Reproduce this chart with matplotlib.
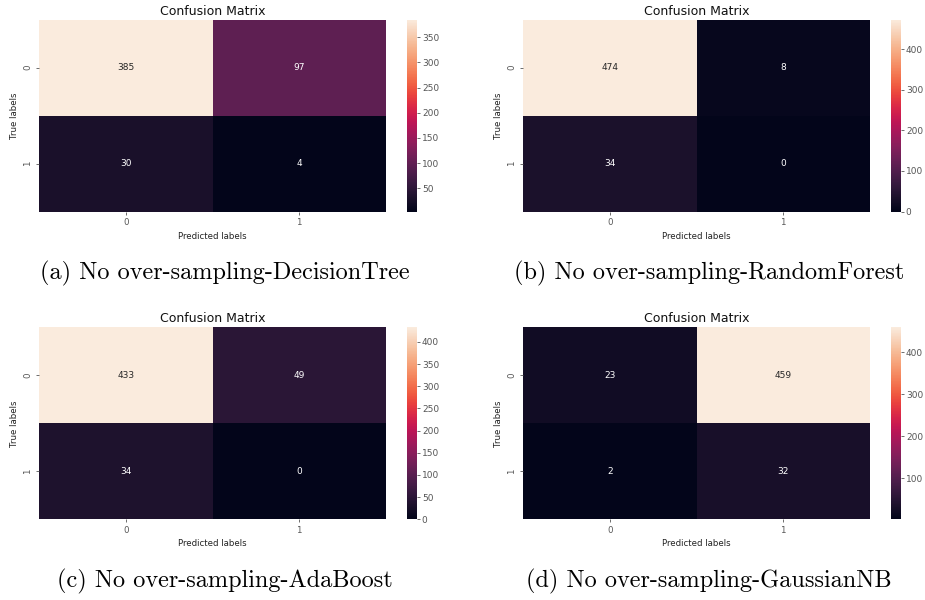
import numpy as np
import matplotlib
matplotlib.use("Agg")
import matplotlib.pyplot as plt
import seaborn as sns

# Confusion matrices (rows: true label, cols: predicted label)
cm_decision_tree = [[385, 97], [30, 4]]
cm_random_forest = [[474, 8], [34, 0]]
cm_adaboost = [[433, 49], [34, 0]]
cm_gaussian_nb = [[23, 459], [2, 32]]

captions = [
    "(a) No over-sampling-DecisionTree",
    "(b) No over-sampling-RandomForest",
    "(c) No over-sampling-AdaBoost",
    "(d) No over-sampling-GaussianNB",
]
class_labels = ["0", "1"]

fig = plt.figure(figsize=(9.25, 6), dpi=100)

W, H = 925.0, 600.0
# pixel boxes: (heatmap left, heatmap top, colorbar left, caption x, caption y)
panels = [
    (39, 19.5, 407, 225, 273),
    (523, 19.5, 891, 709, 273),
    (39, 327.3, 407, 225, 581),
    (523, 327.3, 891, 709, 581),
]
hm_w, hm_h, cb_w = 347, 192, 10

matrices = [cm_decision_tree, cm_random_forest, cm_adaboost, cm_gaussian_nb]

for cm, cap, (hx, hy, cx, tx, ty) in zip(matrices, captions, panels):
    ax = fig.add_axes([hx / W, 1 - (hy + hm_h) / H, hm_w / W, hm_h / H])
    cax = fig.add_axes([cx / W, 1 - (hy + hm_h) / H, cb_w / W, hm_h / H])
    sns.heatmap(np.array(cm), annot=True, fmt="d", ax=ax, cbar_ax=cax,
                annot_kws={"fontsize": 6.5})
    ax.set_title("Confusion Matrix", fontsize=9, pad=3.5, color="#111111")
    ax.set_xlabel("Predicted labels", fontsize=6.2, color="#222222",
                  labelpad=3)
    ax.set_ylabel("True labels", fontsize=6.2, color="#222222", labelpad=3)
    ax.set_xticklabels(class_labels, fontsize=6.2)
    ax.set_yticklabels(class_labels, fontsize=6.2)
    ax.tick_params(colors="#555555", length=2.5, width=0.6, pad=2.5)
    cax.tick_params(labelsize=6.5, colors="#555555", length=2, width=0.6,
                    pad=1.5)
    fig.text(tx / W, 1 - ty / H, cap, fontsize=17.5, family="cmr10",
             ha="center", va="center")

fig.savefig("out.png", dpi=100)
